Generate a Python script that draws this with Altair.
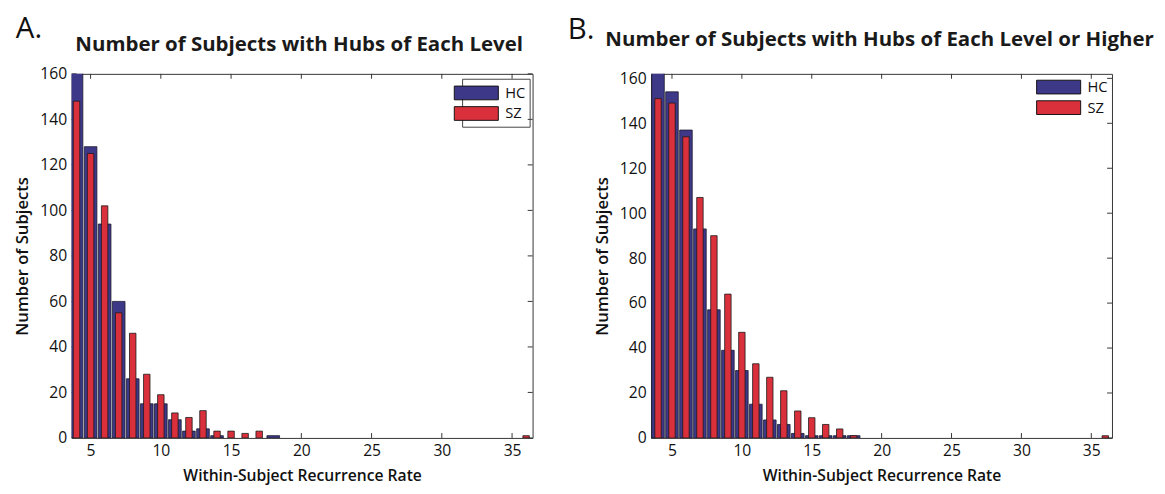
import altair as alt
import pandas as pd

# ---- data ----
levels = [4, 5, 6, 7, 8, 9, 10, 11, 12, 13, 14, 15, 16, 17, 18, 36]

# Panel A: subjects with hubs of each level
hc_a = [170, 128, 94, 60, 26, 15, 15, 8, 3, 4, 1, 0, 0, 0, 1, 0]
sz_a = [148, 125, 102, 55, 46, 28, 19, 11, 9, 12, 3, 3, 2, 3, 0, 1]

# Panel B: subjects with hubs of each level or higher
hc_b = [170, 154, 137, 93, 57, 39, 30, 15, 8, 6, 2, 1, 1, 1, 1, 0]
sz_b = [151, 149, 134, 107, 90, 64, 47, 33, 27, 21, 12, 9, 6, 4, 1, 1]

groups = ["HC", "SZ"]
colors = ["#3e3889", "#d9303c"]
x_ticks = [5, 10, 15, 20, 25, 30, 35]
y_ticks = [0, 20, 40, 60, 80, 100, 120, 140, 160]

FONT = "Open Sans"
W, H = 471, 372
RECT = "M-2.25,-0.7H2.25V0.7H-2.25Z"


def panel(hc, sz, title, letter, xdom, ydom, ytitle, legend_kw, ytitle_pad):
    df = pd.DataFrame(
        {
            "level": levels * 2,
            "count": hc + sz,
            "group": ["HC"] * len(levels) + ["SZ"] * len(levels),
            "hw": [0.45] * len(levels) + [0.23] * len(levels),
        }
    )
    xs = alt.Scale(domain=xdom, nice=False, zero=False)
    ys = alt.Scale(domain=ydom, nice=False)
    color = alt.Color(
        "group:N",
        scale=alt.Scale(domain=groups, range=colors),
        legend=alt.Legend(
            title=None,
            orient="none",
            symbolType=RECT,
            symbolSize=400,
            symbolStrokeColor="#111",
            symbolStrokeWidth=1,
            symbolOpacity=1,
            labelFont=FONT,
            labelFontSize=15,
            labelColor="#111",
            labelOffset=19,
            rowPadding=1,
            **legend_kw,
        ),
    )
    base = alt.Chart(df).transform_filter("datum.count > 0").transform_calculate(
        x0="datum.level - datum.hw", x1="datum.level + datum.hw"
    )
    xenc = alt.X(
        "x0:Q",
        scale=xs,
        axis=alt.Axis(
            values=x_ticks,
            title="Within-Subject Recurrence Rate",
            ticks=False,
            domain=False,
            grid=False,
            labelPadding=5,
            labelFont=FONT,
            labelFontSize=16,
            labelColor="#111",
            titleFont=FONT,
            titleFontSize=16,
            titleFontWeight=600,
            titleColor="#111",
            titlePadding=10,
        ),
    )
    yenc = alt.Y(
        "count:Q",
        scale=ys,
        stack=None,
        axis=alt.Axis(
            values=y_ticks,
            title=ytitle,
            ticks=False,
            domain=False,
            grid=False,
            labelPadding=5,
            labelFont=FONT,
            labelFontSize=16,
            labelColor="#111",
            titleFont=FONT,
            titleFontSize=17,
            titleFontWeight=600,
            titleColor="#111",
            titlePadding=ytitle_pad,
        ),
    )
    hc_bars = base.transform_filter("datum.group == 'HC'").mark_bar(
        clip=True, stroke="#1a1a2a", strokeWidth=0.8, opacity=1
    ).encode(x=xenc, x2="x1:Q", y=yenc, y2=alt.datum(0), color=color)
    sz_bars = base.transform_filter("datum.group == 'SZ'").mark_bar(
        clip=True, stroke="#1a1a1a", strokeWidth=0.8, opacity=1
    ).encode(x=xenc, x2="x1:Q", y=yenc, y2=alt.datum(0), color=color)

    tdf = pd.DataFrame({"tv": x_ticks})
    ydf = pd.DataFrame({"yv": y_ticks})
    tick_style = dict(color="#333", strokeWidth=1)
    bt = alt.Chart(tdf).mark_rule(**tick_style).encode(
        x=alt.X("tv:Q", scale=xs), y=alt.value(H), y2=alt.value(H - 5)
    )
    tt = alt.Chart(tdf).mark_rule(**tick_style).encode(
        x=alt.X("tv:Q", scale=xs), y=alt.value(0), y2=alt.value(5)
    )
    rt = alt.Chart(ydf).mark_rule(**tick_style).encode(
        y=alt.Y("yv:Q", scale=ys), x=alt.value(W), x2=alt.value(W - 5)
    )
    lt = alt.Chart(ydf).mark_rule(**tick_style).encode(
        y=alt.Y("yv:Q", scale=ys), x=alt.value(0), x2=alt.value(5)
    )
    lab = alt.Chart(pd.DataFrame({"t": [letter["text"]]})).mark_text(
        font=FONT, fontSize=30, align="left", baseline="alphabetic", color="#111"
    ).encode(text="t:N", x=alt.value(letter["x"]), y=alt.value(letter["y"]))
    ttl = alt.Chart(pd.DataFrame({"t": [title["text"]]})).mark_text(
        font=FONT, fontSize=20.9, fontWeight="bold", align="center",
        baseline="alphabetic", color="#1a1a1a"
    ).encode(text="t:N", x=alt.value(title["x"]), y=alt.value(title["y"]))

    return alt.layer(bt, tt, rt, lt, hc_bars, sz_bars, lab, ttl).properties(
        width=W, height=H
    )


pa = panel(
    hc_a, sz_a,
    {"text": "Number of Subjects with Hubs of Each Level", "x": W / 2 - 3, "y": -23},
    {"text": "A.", "x": -57, "y": -37},
    [3.65, 36.46], [0, 160],
    "Number of  Subjects",
    dict(legendX=399, legendY=5, strokeColor="#444", padding=4),
    9,
)
pb = panel(
    hc_b, sz_b,
    {"text": "Number of Subjects with Hubs of Each Level or Higher", "x": W / 2 - 2, "y": -28},
    {"text": "B.", "x": -85, "y": -36},
    [3.5, 36.48], [0, 162],
    "Number of  Subjects",
    dict(legendX=402, legendY=-1, padding=4),
    8,
)

chart = alt.hconcat(pa, pb, spacing=34).resolve_legend(color="independent").resolve_scale(
    color="independent"
).properties(
    background="white", padding={"left": 5, "top": 0, "right": 2, "bottom": 5}
).configure_view(stroke="#333", strokeWidth=1)

chart.save("out.html", embed_options={"renderer": "svg", "actions": False})
